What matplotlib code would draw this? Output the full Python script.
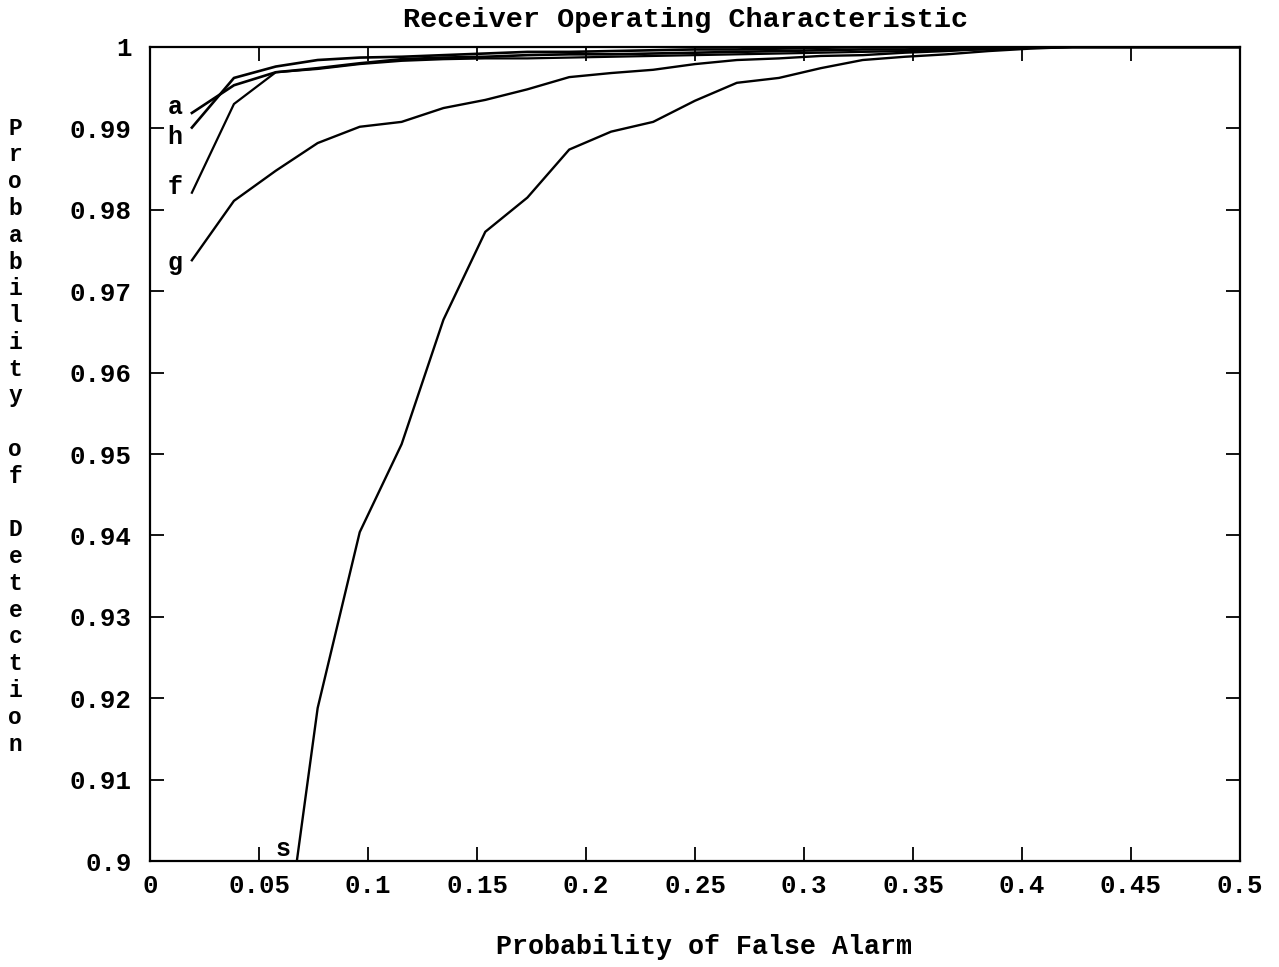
import matplotlib
matplotlib.use("Agg")
import matplotlib.pyplot as plt

# ---- data ----
x_vals = [0.0192, 0.0385, 0.0577, 0.0769, 0.0962, 0.1154, 0.1346, 0.1538, 0.1731,
          0.1923, 0.2115, 0.2308, 0.2500, 0.2692, 0.2885, 0.3077, 0.3269, 0.3462,
          0.3654, 0.3846, 0.4038, 0.4231, 0.4423, 0.4615, 0.4808, 0.5000]

pd_a = [0.9919, 0.9953, 0.9969, 0.9974, 0.9980, 0.9985, 0.9987, 0.9988, 0.9990,
        0.9991, 0.9991, 0.9992, 0.9993, 0.9994, 0.9995, 0.9996, 0.9997, 0.9997,
        0.9998, 0.9999, 0.9999, 1.0, 1.0, 1.0, 1.0, 1.0]
pd_h = [0.9901, 0.9962, 0.9976, 0.9984, 0.9987, 0.9988, 0.9990, 0.9992, 0.9994,
        0.9994, 0.9995, 0.9996, 0.9997, 0.9997, 0.9998, 0.9999, 1.0, 1.0,
        1.0, 1.0, 1.0, 1.0, 1.0, 1.0, 1.0, 1.0]
pd_f = [0.9821, 0.9930, 0.9969, 0.9973, 0.9979, 0.9983, 0.9985, 0.9986, 0.9986,
        0.9987, 0.9988, 0.9989, 0.9990, 0.9991, 0.9992, 0.9993, 0.9994, 0.9995,
        0.9996, 0.9997, 0.9999, 1.0, 1.0, 1.0, 1.0, 1.0]
pd_g = [0.9738, 0.9811, 0.9848, 0.9882, 0.9902, 0.9908, 0.9925, 0.9935, 0.9948,
        0.9963, 0.9968, 0.9972, 0.9979, 0.9984, 0.9986, 0.9989, 0.9990, 0.9993,
        0.9995, 0.9998, 1.0, 1.0, 1.0, 1.0, 1.0, 1.0]
x_s = x_vals[2:]
pd_s = [0.8810, 0.9188, 0.9404, 0.9512, 0.9665, 0.9773, 0.9815, 0.9874, 0.9896,
        0.9908, 0.9934, 0.9956, 0.9962, 0.9974, 0.9984, 0.9988, 0.9991, 0.9995,
        0.9998, 1.0, 1.0, 1.0, 1.0, 1.0]

curve_labels = ["a", "h", "f", "g", "s"]
label_pos = {"a": (0.0115, 0.99263), "h": (0.0115, 0.98894), "f": (0.0115, 0.98280),
             "g": (0.0115, 0.97346), "s": (0.0610, 0.9000)}

xticks = [0, 0.05, 0.1, 0.15, 0.2, 0.25, 0.3, 0.35, 0.4, 0.45, 0.5]
xtick_labels = ["0", "0.05", "0.1", "0.15", "0.2", "0.25", "0.3", "0.35", "0.4", "0.45", "0.5"]
yticks = [0.9, 0.91, 0.92, 0.93, 0.94, 0.95, 0.96, 0.97, 0.98, 0.99, 1.0]
ytick_labels = ["0.9", "0.91", "0.92", "0.93", "0.94", "0.95", "0.96", "0.97", "0.98", "0.99", "1"]

title = "Receiver Operating Characteristic"
xlabel = "Probability of False Alarm"
ylabel = "Probability of Detection"

# ---- plot ----
font = ["Liberation Mono", "DejaVu Sans Mono"]
plt.rcParams["font.family"] = font
plt.rcParams["font.weight"] = "bold"

fig = plt.figure(figsize=(12.79, 9.67), dpi=100)
ax = fig.add_axes([0.1173, 0.1096, 0.8522, 0.8418])

lw = 1.9
ax.plot(x_vals, pd_a, color="black", lw=lw)
ax.plot(x_vals, pd_h, color="black", lw=lw)
ax.plot(x_vals, pd_f, color="black", lw=lw - 0.3)
ax.plot(x_vals, pd_g, color="black", lw=lw - 0.2)
ax.plot(x_s, pd_s, color="black", lw=lw - 0.2)

for lab in curve_labels:
    xx, yy = label_pos[lab]
    ax.text(xx, yy, lab, fontsize=18, ha="center",
            va="bottom" if lab == "s" else "center", clip_on=False)

ax.set_xlim(0, 0.5)
ax.set_ylim(0.9, 1.0)
ax.set_xticks(xticks)
ax.set_xticklabels(xtick_labels, fontsize=18.5)
ax.set_yticks(yticks)
ax.set_yticklabels(ytick_labels, fontsize=18.5)
ax.tick_params(direction="in", length=10, width=1.3, top=True, right=True)
ax.tick_params(axis="x", pad=9)
ax.tick_params(axis="y", pad=13)
for sp in ax.spines.values():
    sp.set_linewidth(1.6)

fig.text(0.5364, 0.979, title, fontsize=20.5, ha="center", va="center")
fig.text(0.5508, 0.021, xlabel, fontsize=19.2, ha="center", va="center")
fig.text(0.012, 0.549, "\n".join(ylabel), fontsize=16.5, ha="center", va="center",
         linespacing=1.21)

fig.savefig("out.png", dpi=100)
